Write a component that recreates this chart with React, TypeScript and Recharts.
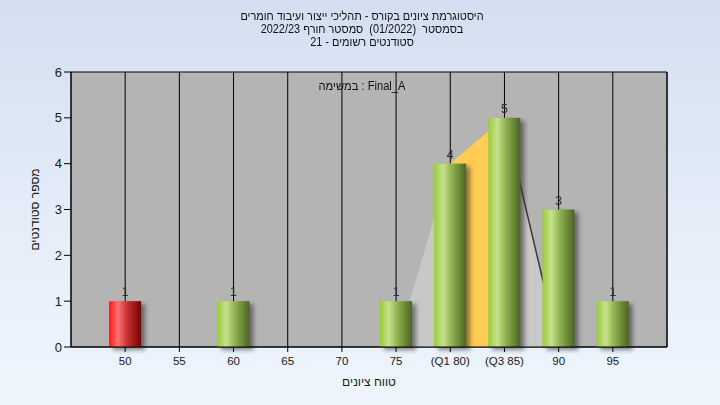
import React from 'react';
import {
  ComposedChart,
  Bar,
  Area,
  XAxis,
  YAxis,
  CartesianGrid,
  Cell,
  LabelList,
} from 'recharts';

// ---- data ----
const grades = [50, 55, 60, 65, 70, 75, 80, 85, 90, 95];
const counts = [1, 0, 1, 0, 0, 1, 4, 5, 3, 1];
const tickLabels = ['50', '55', '60', '65', '70', '75', '(Q1 80)', '(Q3 85)', '90', '95'];
// light distribution band (left/right of quartiles)
const spreadValues: (number | null)[] = [null, null, null, null, null, 0, 4, 5, 0, null];
// inter-quartile band
const iqrValues: (number | null)[] = [null, null, null, null, null, null, 4, 5, null, null];
// right edge line
const edgeValues: (number | null)[] = [null, null, null, null, null, null, null, 5, 0, null];
const yTicks = [0, 1, 2, 3, 4, 5, 6];

const titleLines = [
  'היסטוגרמת ציונים בקורס - תהליכי ייצור ועיבוד חומרים',
  'בסמסטר  (01/2022)  סמסטר חורף 2022/23',
  'סטודנטים רשומים - 21',
];
const taskLabel = 'במשימה : Final_A';
const xAxisTitle = 'טווח ציונים';
const yAxisTitle = 'מספר סטודנטים';

const data = grades.map((g, i) => ({
  grade: g,
  count: counts[i],
  spread: spreadValues[i],
  iqr: iqrValues[i],
  edge: edgeValues[i],
}));

const labelMap: Record<number, string> = {};
grades.forEach((g, i) => (labelMap[g] = tickLabels[i]));

const FONT = '"Liberation Sans", Arial, sans-serif';

const BarShape = (props: any) => {
  const { x, y, width, height, index } = props;
  if (!height || height <= 0) return null;
  const red = grades[index] === 50;
  return (
    <g>
      <rect
        x={x + 4}
        y={y + 3}
        width={width}
        height={height}
        fill="rgba(40,40,40,0.55)"
        filter="url(#barShadow)"
      />
      <rect x={x} y={y} width={width} height={height} fill={red ? 'url(#redGrad)' : 'url(#greenGrad)'} />
    </g>
  );
};

const ValueLabel = (props: any) => {
  const { x, y, width, value } = props;
  if (!value) return null;
  return (
    <text
      x={x + width / 2}
      y={y - 5}
      textAnchor="middle"
      fontSize={12}
      fontFamily={FONT}
      fill="#2a2a2a"
    >
      {value}
    </text>
  );
};

export default function App() {
  return (
    <div
      style={{
        position: 'fixed',
        left: 0,
        top: 0,
        width: 720,
        height: 405,
        background: 'linear-gradient(to bottom, #d3dff0 0%, #e6eef9 60%, #eef5fd 100%)',
        fontFamily: FONT,
      }}
    >
      <div
        style={{
          position: 'absolute',
          left: 0,
          top: 10,
          width: 724,
          textAlign: 'center',
          fontSize: 12,
          lineHeight: '13px',
          color: '#111',
          direction: 'rtl',
          whiteSpace: 'pre',
          transform: 'scaleX(0.91)',
          transformOrigin: '362px 0',
        }}
      >
        {titleLines.map((t, i) => (
          <div key={i}>{t}</div>
        ))}
      </div>
      <ComposedChart
        width={720}
        height={405}
        data={data}
        margin={{ top: 72, right: 23, bottom: 28, left: 41 }}
        style={{ position: 'absolute', left: 0, top: 0 }}
      >
        <defs>
          <linearGradient id="greenGrad" x1="0" y1="0" x2="1" y2="0">
            <stop offset="0%" stopColor="#9acb3a" />
            <stop offset="28%" stopColor="#c6e28c" />
            <stop offset="55%" stopColor="#8fb14f" />
            <stop offset="100%" stopColor="#4a6521" />
          </linearGradient>
          <linearGradient id="redGrad" x1="0" y1="0" x2="1" y2="0">
            <stop offset="0%" stopColor="#ff1414" />
            <stop offset="28%" stopColor="#ff7373" />
            <stop offset="55%" stopColor="#c83434" />
            <stop offset="100%" stopColor="#780000" />
          </linearGradient>
          <filter id="barShadow" x="-30%" y="-10%" width="160%" height="130%">
            <feGaussianBlur stdDeviation="2" />
          </filter>
        </defs>
        <CartesianGrid
          fill="#b4b4b4"
          stroke="#000"
          strokeWidth={1}
          vertical
          horizontal
        />
        <XAxis
          dataKey="grade"
          type="number"
          domain={[45, 100]}
          ticks={grades}
          tickFormatter={(v: number) => labelMap[v] ?? String(v)}
          interval={0}
          height={30}
          stroke="#000"
          tick={{ fill: '#1a1a1a', fontSize: 11.5, fontFamily: FONT }}
          tickSize={5}
          tickMargin={5}
          label={{
            value: xAxisTitle,
            position: 'insideBottom',
            offset: -9,
            fill: '#1a1a1a',
            fontSize: 12,
            fontFamily: FONT,
          }}
        />
        <YAxis
          yAxisId="left"
          orientation="left"
          domain={[0, 6]}
          ticks={yTicks}
          width={30}
          stroke="#000"
          tickSize={7}
          tick={{ fill: '#1a1a1a', fontSize: 13, fontFamily: FONT }}
          label={{
            value: yAxisTitle,
            angle: -90,
            position: 'insideLeft',
            offset: -6,
            fill: '#1a1a1a',
            fontSize: 12,
            fontFamily: FONT,
            style: { textAnchor: 'middle' },
          }}
        />
        <YAxis
          yAxisId="right"
          orientation="right"
          domain={[0, 6]}
          ticks={yTicks}
          width={30}
          stroke="#000"
          tickSize={7}
          tick={{ fill: '#1a1a1a', fontSize: 13, fontFamily: FONT }}
        />
        <Area
          yAxisId="left"
          dataKey="spread"
          type="linear"
          fill="#c8c8c8"
          fillOpacity={1}
          stroke="none"
          isAnimationActive={false}
          connectNulls={false}
          dot={false}
          activeDot={false}
        />
        <Area
          yAxisId="left"
          dataKey="iqr"
          type="linear"
          fill="#ffcc55"
          fillOpacity={1}
          stroke="none"
          isAnimationActive={false}
          dot={false}
          activeDot={false}
        />
        <Area
          yAxisId="left"
          dataKey="edge"
          type="linear"
          fill="none"
          fillOpacity={0}
          stroke="#3a3a3a"
          strokeWidth={1.5}
          dot={false}
          activeDot={false}
          isAnimationActive={false}
        />
        <Bar
          yAxisId="left"
          dataKey="count"
          barSize={32}
          shape={BarShape}
          isAnimationActive={false}
        >
          {data.map((d, i) => (
            <Cell key={i} />
          ))}
          <LabelList dataKey="count" content={ValueLabel} />
        </Bar>
      </ComposedChart>
      <div
        style={{
          position: 'absolute',
          left: 262,
          top: 79,
          width: 200,
          textAlign: 'center',
          fontSize: 12,
          color: '#111',
          transform: 'scaleX(0.93)',
        }}
      >
        {taskLabel}
      </div>
    </div>
  );
}
